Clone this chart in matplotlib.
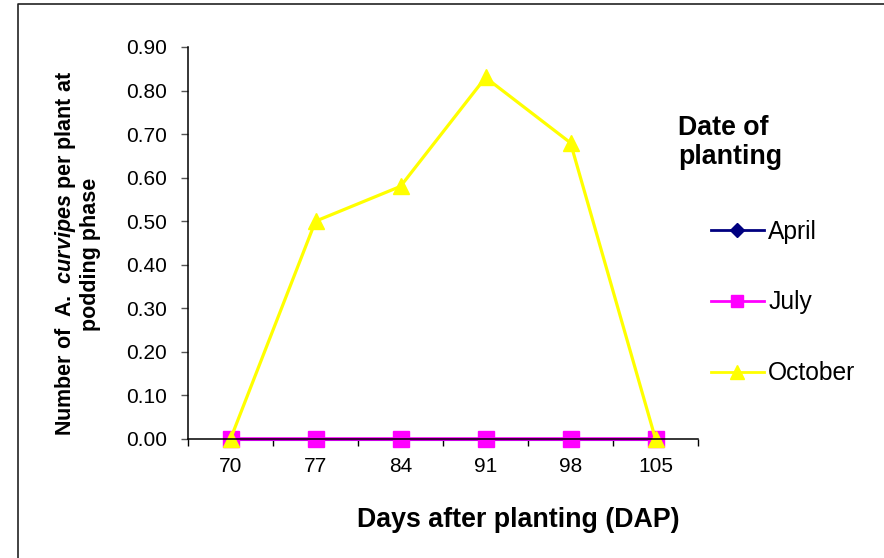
import matplotlib
matplotlib.use("Agg")
import matplotlib.pyplot as plt
from matplotlib.lines import Line2D

plt.rcParams["font.family"] = ["Liberation Sans", "DejaVu Sans"]
plt.rcParams["mathtext.fontset"] = "custom"
plt.rcParams["mathtext.rm"] = "Liberation Sans:bold"
plt.rcParams["mathtext.it"] = "Liberation Sans:italic:bold"

# Days after planting and mean insects per plant at podding
dap = ["70", "77", "84", "91", "98", "105"]
april = [0.00, 0.00, 0.00, 0.00, 0.00, 0.00]
july = [0.00, 0.00, 0.00, 0.00, 0.00, 0.00]
october = [0.00, 0.50, 0.58, 0.83, 0.68, 0.00]
yticks = [0.0, 0.1, 0.2, 0.3, 0.4, 0.5, 0.6, 0.7, 0.8, 0.9]

W, H = 884, 558
fig = plt.figure(figsize=(W / 100, H / 100), dpi=100)
ax = fig.add_axes([188 / W, 1 - 439 / H, 510 / W, 392 / H])

x = list(range(len(dap)))
ax.plot(x, april, "-D", color="#000080", lw=2.2, ms=8, label="April")
ax.plot(x, july, "-s", color="#ff00ff", lw=2.6, ms=11, label="July")
ax.plot(x, october, "-^", color="#ffff00", lw=2.3, ms=12, label="October")
for l in ax.lines:
    l.set_clip_on(False)

ax.set_xlim(-0.5, len(dap) - 0.5)
ax.set_ylim(0, 0.9)
ax.set_yticks(yticks)
ax.set_yticklabels([f"{v:.2f}" for v in yticks])
ax.set_xticks(x)
ax.set_xticklabels(dap)
ax.set_xticks([i - 0.5 for i in range(len(dap) + 1)], minor=True)
ax.tick_params(axis="x", which="major", length=0, pad=13, labelsize=15)
ax.tick_params(axis="x", which="minor", length=5, width=1, direction="out")
ax.tick_params(axis="y", length=5, width=1, pad=10, labelsize=15,
               color="#555555")
for s in ("top", "right"):
    ax.spines[s].set_visible(False)
for s in ("left", "bottom"):
    ax.spines[s].set_linewidth(1.1)

fig.text(518 / W, 1 - 520 / H, "Days after planting (DAP)", ha="center",
         va="center", fontsize=19.3, fontweight="bold")
fig.text(77 / W, 1 - 254 / H,
         "Number of  A.  $\\mathit{curvipes}$ per plant at\npodding phase",
         rotation=90, ha="center", va="center", multialignment="center",
         fontsize=15.5, fontweight="bold", linespacing=1.15)

fig.text(678 / W, 1 - 142 / H, "Date of\nplanting", ha="left", va="center",
         fontsize=19.3, fontweight="bold", linespacing=1.15)

handles = [
    Line2D([], [], color="#000080", lw=2, marker="D", ms=7),
    Line2D([], [], color="#ff00ff", lw=2, marker="s", ms=8.5),
    Line2D([], [], color="#ffff00", lw=2, marker="^", ms=9.5),
]
fig.legend(handles, ["April", "July", "October"], loc="center left",
           bbox_to_anchor=(711 / W, 1 - 302.5 / H), frameon=False,
           fontsize=17.7, handlelength=2.15, handletextpad=0.18,
           labelspacing=1.9, borderpad=0, borderaxespad=0)

# frame edge along the top and left of the chart area
fig.add_artist(Line2D([18 / W, 18 / W, 1.0], [0.0, 1 - 4 / H, 1 - 4 / H],
                      transform=fig.transFigure, color="#222222", lw=1.2))

fig.savefig("out.png", dpi=100)
